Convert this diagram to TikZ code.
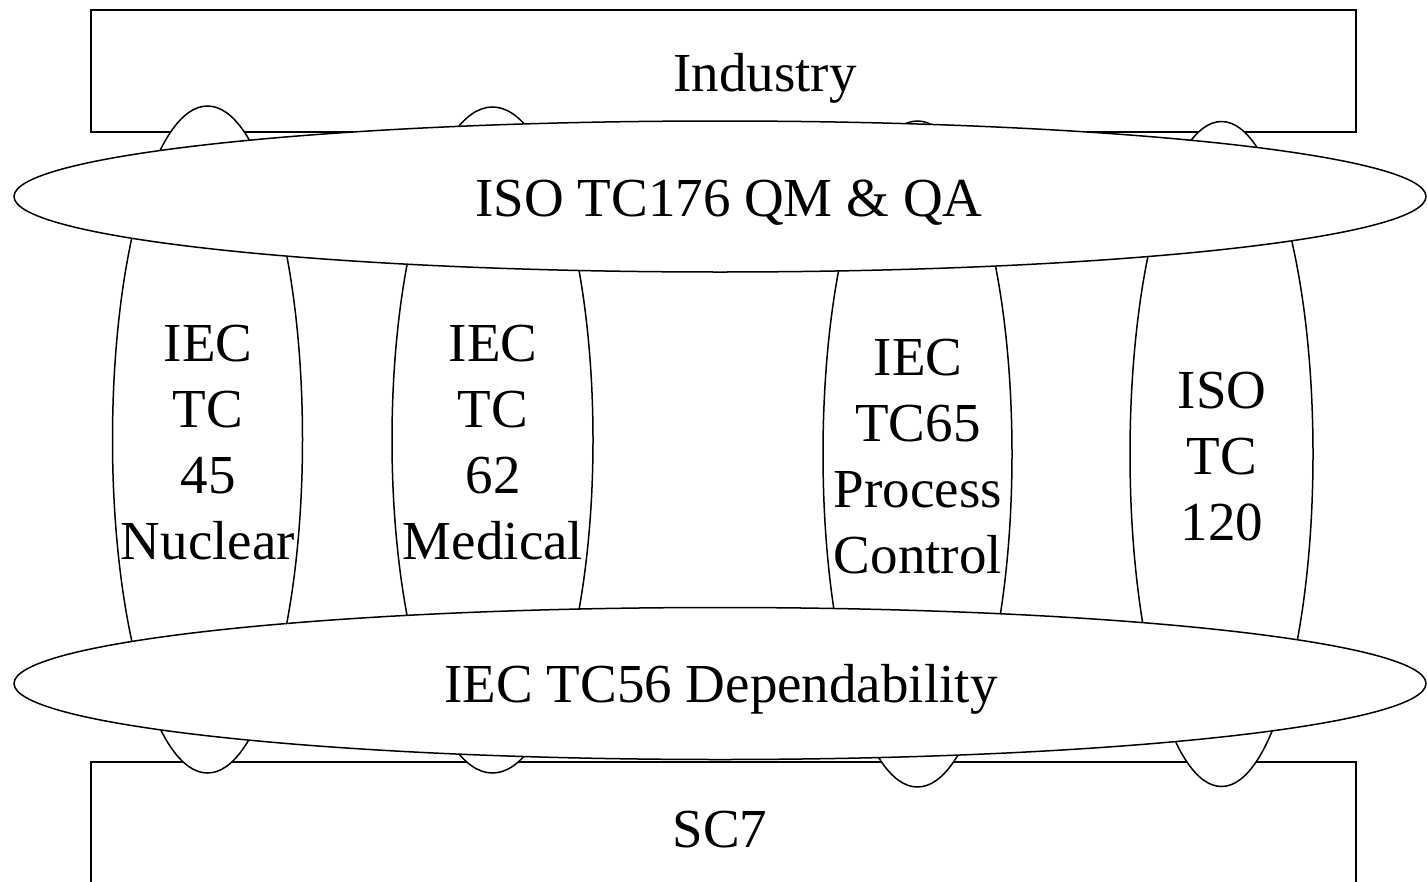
\documentclass[tikz,border=0pt]{standalone}
\usepackage{fontspec}
\setmainfont{Liberation Serif}
\usetikzlibrary{shapes.geometric}
\tikzset{
	bandbox/.style={draw, line width=1.5pt, fill=white, inner sep=0pt},
	tcell/.style={ellipse, draw, line width=1.5pt, fill=white, inner sep=0pt},
	lbl/.style={font=\fontsize{55}{66}\selectfont, align=center, inner sep=0pt}
}
\begin{document}
\begin{tikzpicture}[x=1pt,y=-1pt]
	\useasboundingbox (0,0) rectangle (1427,881);
	\clip (0,0) rectangle (1427,881);
	% hai khung tren va duoi
	\node[bandbox, minimum width=1265pt, minimum height=122pt] (industry) at (723.5,71) {};
	\node[bandbox, minimum width=1265pt, minimum height=238pt] (sc) at (723.5,881) {};
	% cac ellipse dung
	\foreach \nm/\cx/\cy/\w/\h in {tcA/207.5/439.5/190/667,tcB/492.5/440/201/666,tcC/917.5/454/189/666,tcD/1221.5/454/183/665}
	\node[tcell, minimum width=\w pt, minimum height=\h pt] (\nm) at (\cx,\cy) {};
	% hai ellipse nam ngang
	\node[tcell, minimum width=1412pt, minimum height=151pt] (qm) at (720,196.5) {};
	\node[tcell, minimum width=1412pt, minimum height=152pt] (dep) at (720,683.5) {};
	% chu
	\foreach \nm/\cx/\cy/\txt in {nucT/208/443/{IEC\\TC\\45\\Nuclear},medT/493/443/{IEC\\TC\\62\\Medical},proT/918/457/{IEC\\TC65\\Process\\Control},isoT/1222/457/{ISO\\TC\\120}}
	{\path (\cx,\cy) node[lbl] (\nm) {\txt};}
	\path (765,78) node[lbl] (industryT) {Industry}
	(729,203) node[lbl] (qmT) {ISO TC176 QM \& QA}
	(721,689) node[lbl] (depT) {IEC TC56 Dependability}
	(720,830) node[lbl] (scT) {SC7};
\end{tikzpicture}
\end{document}
